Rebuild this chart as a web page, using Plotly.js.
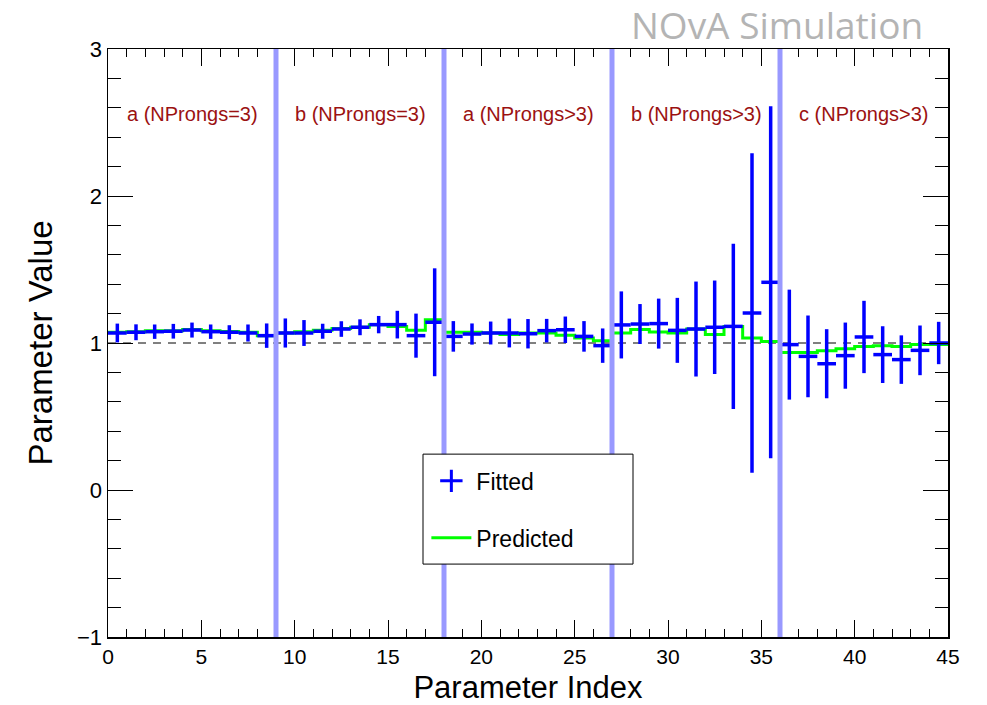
<!DOCTYPE html>
<html>
<head>
<meta charset="utf-8">
<script src="https://cdn.plot.ly/plotly-3.0.1.min.js"></script>
<style>
  html, body { margin: 0; padding: 0; background: #ffffff; }
  #chart { width: 987px; height: 705px; }
</style>
</head>
<body>
<div id="chart"></div>
<script>
// ---- Data ----
var nBins = 45;
var fittedValues = [1.068,1.073,1.077,1.080,1.088,1.077,1.073,1.068,1.050,1.068,
                    1.068,1.080,1.095,1.107,1.125,1.125,1.050,1.141,1.045,1.061,
                    1.068,1.068,1.063,1.084,1.090,1.045,0.982,1.123,1.129,1.132,
                    1.086,1.095,1.107,1.113,1.204,1.413,0.989,0.909,0.859,0.914,
                    1.041,0.921,0.887,0.950,1.000];
var fittedErrors = [0.064,0.054,0.049,0.050,0.051,0.049,0.048,0.058,0.083,0.099,
                    0.088,0.051,0.053,0.054,0.059,0.094,0.150,0.367,0.104,0.072,
                    0.078,0.098,0.100,0.080,0.090,0.104,0.117,0.228,0.136,0.170,
                    0.221,0.323,0.318,0.562,1.086,1.197,0.374,0.278,0.235,0.225,
                    0.246,0.193,0.165,0.169,0.144];
var predictedValues = [1.073,1.077,1.084,1.084,1.091,1.084,1.079,1.073,1.050,1.068,
                       1.077,1.086,1.098,1.107,1.125,1.113,1.086,1.159,1.073,1.073,
                       1.068,1.057,1.068,1.068,1.052,1.034,1.016,1.068,1.091,1.075,
                       1.068,1.095,1.057,1.113,1.034,1.011,0.936,0.936,0.948,0.961,
                       0.977,0.982,0.977,0.989,0.989];
var regionBoundaries = [9, 18, 27, 36];
var regionLabels = ["a (NProngs=3)", "b (NProngs=3)", "a (NProngs>3)", "b (NProngs>3)", "c (NProngs>3)"];
var referenceValue = 1;
var xTickValues = [0, 5, 10, 15, 20, 25, 30, 35, 40, 45];
var yTickValues = [-1, 0, 1, 2, 3];

// ---- Derived ----
var binCenters = [], binEdges = [], stepY = [];
for (var i = 0; i < nBins; i++) { binCenters.push(i + 0.5); }
for (var e = 0; e <= nBins; e++) { binEdges.push(e); stepY.push(predictedValues[Math.min(e, nBins - 1)]); }
var regionStarts = [0].concat(regionBoundaries);
var regionEnds = regionBoundaries.concat([nBins]);

var FONT = "Liberation Sans, Arial, Helvetica, sans-serif";

var traces = [
  {
    type: "scatter", mode: "lines", name: "Predicted",
    x: binEdges, y: stepY,
    line: { shape: "hv", color: "#00ff00", width: 3 },
    showlegend: false, hoverinfo: "skip"
  },
  {
    type: "scatter", mode: "markers", name: "Fitted",
    x: binCenters, y: fittedValues,
    marker: { size: 1, color: "#0000ff" },
    error_y: { type: "data", array: fittedErrors, visible: true, width: 0, thickness: 3.5, color: "#0000ff" },
    error_x: { type: "constant", value: 0.5, visible: true, width: 0, thickness: 3.5, color: "#0000ff" },
    showlegend: false
  },
  // legend entries
  {
    type: "scatter", mode: "markers", name: "Fitted",
    x: [null], y: [null],
    marker: { symbol: "cross-thin", size: 16, color: "#0000ff", line: { color: "#0000ff", width: 3 } },
    legendgroup: "g1", showlegend: true
  },
  {
    type: "scatter", mode: "lines", name: "Predicted",
    x: [null], y: [null],
    line: { color: "#00ff00", width: 3 },
    legendgroup: "g2", showlegend: true
  }
];

var shapes = [];
shapes.push({
  type: "line", xref: "x", yref: "y", layer: "below",
  x0: 0, x1: nBins, y0: referenceValue, y1: referenceValue,
  line: { color: "#000000", width: 1, dash: "8px,7px" }
});
regionBoundaries.forEach(function (b) {
  shapes.push({
    type: "line", xref: "x", yref: "y", layer: "above",
    x0: b, x1: b, y0: -1, y1: 3,
    line: { color: "rgb(153,153,255)", width: 5 }
  });
});
// legend box
shapes.push({
  type: "rect", xref: "paper", yref: "paper", layer: "above",
  x0: 0.375, x1: 0.625, y0: 0.124, y1: 0.311,
  fillcolor: "#ffffff", line: { color: "#000000", width: 1 }
});

var annotations = [];
for (var r = 0; r < regionLabels.length; r++) {
  annotations.push({
    xref: "x", yref: "y",
    x: (regionStarts[r] + regionEnds[r]) / 2, y: 2.56,
    text: regionLabels[r], showarrow: false,
    font: { family: FONT, size: 20, color: "#9b1111" },
    xanchor: "center", yanchor: "middle"
  });
}
annotations.push({
  xref: "paper", yref: "paper", x: 0.9726, y: 1.0, yshift: -3,
  xanchor: "right", yanchor: "bottom",
  text: "NOvA Simulation", showarrow: false,
  font: { family: "Open Sans, Noto Sans, sans-serif", size: 37, color: "#b4b4b4" }
});

var layout = {
  width: 987, height: 705,
  margin: { l: 108, r: 39, t: 49, b: 68, pad: 0 },
  paper_bgcolor: "#ffffff", plot_bgcolor: "#ffffff",
  showlegend: true,
  legend: {
    x: 0.379, y: 0.302, xanchor: "left", yanchor: "top",
    bgcolor: "rgba(0,0,0,0)", borderwidth: 0,
    font: { family: FONT, size: 23, color: "#000000" },
    traceorder: "grouped", tracegroupgap: 24, itemwidth: 40
  },
  xaxis: {
    range: [0, nBins], tickvals: xTickValues,
    ticks: "inside", ticklen: 17, tickwidth: 1, tickcolor: "#000000",
    minor: { dtick: 1, ticks: "inside", ticklen: 8, tickwidth: 1, tickcolor: "#000000" },
    showline: true, linecolor: "#000000", linewidth: 1.5, mirror: "ticks",
    showgrid: false, zeroline: false,
    tickfont: { family: FONT, size: 21, color: "#000000" },
    title: { text: "Parameter Index", font: { family: FONT, size: 31, color: "#000000" }, standoff: 10 }
  },
  yaxis: {
    range: [-1, 3], tickvals: yTickValues,
    ticks: "inside", ticklen: 25, tickwidth: 1, tickcolor: "#000000",
    minor: { dtick: 0.2, ticks: "inside", ticklen: 13, tickwidth: 1, tickcolor: "#000000" },
    showline: true, linecolor: "#000000", linewidth: 1.5, mirror: "ticks",
    showgrid: false, zeroline: false,
    tickfont: { family: FONT, size: 22, color: "#000000" },
    title: { text: "Parameter Value", font: { family: FONT, size: 33, color: "#000000" }, standoff: 14 }
  },
  shapes: shapes,
  annotations: annotations
};

Plotly.newPlot("chart", traces, layout, { displayModeBar: false, staticPlot: true });
</script>
</body>
</html>
